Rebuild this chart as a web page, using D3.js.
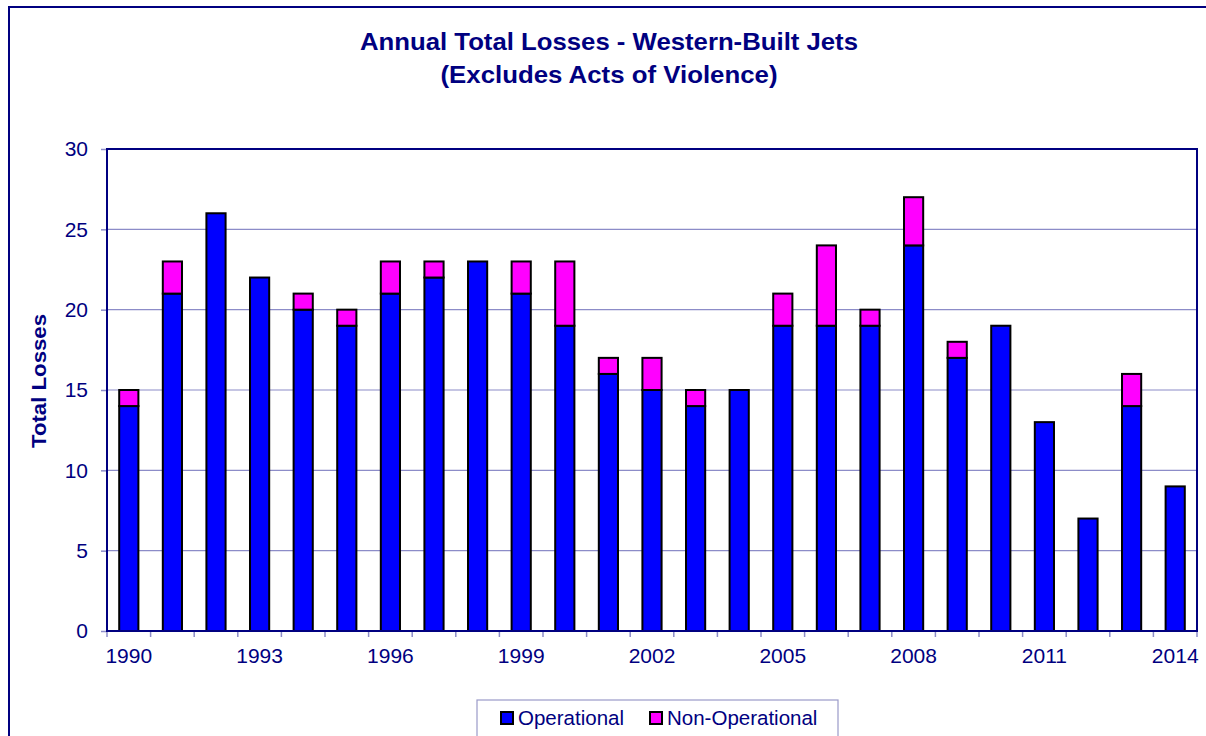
<!DOCTYPE html>
<html>
<head>
<meta charset="utf-8">
<script src="https://cdn.jsdelivr.net/npm/d3@7"></script>
<style>
  body { margin: 0; background: #fff; }
  svg { display: block; font-family: Arial, "Liberation Sans", sans-serif; }
</style>
</head>
<body>
<svg id="chart" width="1206" height="736"></svg>
<script>
// data
var years = [1990, 1991, 1992, 1993, 1994, 1995, 1996, 1997, 1998, 1999, 2000, 2001, 2002,
  2003, 2004, 2005, 2006, 2007, 2008, 2009, 2010, 2011, 2012, 2013, 2014];
var operational = [14, 21, 26, 22, 20, 19, 21, 22, 23, 21, 19, 16, 15, 14, 15, 19, 19, 19, 24, 17, 19, 13, 7, 14, 9];
var nonOperational = [1, 2, 0, 0, 1, 1, 2, 1, 0, 2, 4, 1, 2, 1, 0, 2, 5, 1, 3, 1, 0, 0, 0, 2, 0];
var yTicks = [0, 5, 10, 15, 20, 25, 30];
var labelYears = [1990, 1993, 1996, 1999, 2002, 2005, 2008, 2011, 2014];
var seriesNames = ["Operational", "Non-Operational"];
var seriesColors = ["#0000ff", "#ff00ff"];

var navy = "#000080";
var fontStack = "Arial, 'Liberation Sans', sans-serif";
var svg = d3.select("#chart");
var plot = { left: 107, right: 1197, top: 149, bottom: 631 };

// outer frame (runs off the right and bottom edge)
svg.append("rect")
  .attr("x", 9).attr("y", 7)
  .attr("width", 1260).attr("height", 800)
  .attr("fill", "none").attr("stroke", navy).attr("stroke-width", 2);

// title
svg.append("text")
  .attr("x", 609).attr("y", 50)
  .attr("text-anchor", "middle")
  .attr("font-size", 24).attr("font-weight", "bold").attr("fill", navy)
  .attr("textLength", 498).attr("lengthAdjust", "spacingAndGlyphs")
  .text("Annual Total Losses - Western-Built Jets");
svg.append("text")
  .attr("x", 609).attr("y", 83)
  .attr("text-anchor", "middle")
  .attr("font-size", 24).attr("font-weight", "bold").attr("fill", navy)
  .attr("textLength", 337).attr("lengthAdjust", "spacingAndGlyphs")
  .text("(Excludes Acts of Violence)");

var x = d3.scaleBand()
  .domain(years)
  .range([plot.left, plot.right])
  .paddingInner(0.56)
  .paddingOuter(0.28);

var y = d3.scaleLinear()
  .domain([0, 30])
  .range([plot.bottom, plot.top]);

// gridlines
svg.append("g")
  .selectAll("line")
  .data(yTicks.filter(d => d > 0 && d < 30))
  .enter()
  .append("line")
  .attr("x1", plot.left).attr("x2", plot.right)
  .attr("y1", d => y(d)).attr("y2", d => y(d))
  .attr("stroke", "#8c8cc8").attr("stroke-width", 1.2);

// y axis
var yAxis = svg.append("g")
  .attr("transform", `translate(${plot.left},0)`)
  .call(d3.axisLeft(y).tickValues(yTicks).tickSize(6).tickPadding(13));
yAxis.select(".domain").remove();
yAxis.selectAll(".tick line").attr("stroke", "#8c8cc8").attr("stroke-width", 1.5);
yAxis.selectAll(".tick text")
  .attr("font-size", 21).attr("fill", navy).attr("font-family", fontStack);

// x axis: ticks on band edges, labels every third year
var step = x.step();
var edges = d3.range(years.length + 1).map(i => plot.left + i * step);
svg.append("g")
  .selectAll("line")
  .data(edges)
  .enter()
  .append("line")
  .attr("x1", d => d).attr("x2", d => d)
  .attr("y1", plot.bottom).attr("y2", plot.bottom + 6)
  .attr("stroke", "#8c8cc8").attr("stroke-width", 1.5);

var xAxis = svg.append("g")
  .attr("transform", `translate(0,${plot.bottom})`)
  .call(d3.axisBottom(x).tickValues(labelYears).tickSize(0).tickPadding(17));
xAxis.select(".domain").remove();
xAxis.selectAll(".tick text")
  .attr("font-size", 21).attr("fill", navy).attr("font-family", fontStack);

// stacked bars
var rows = years.map((yr, i) => ({ year: yr, Operational: operational[i], "Non-Operational": nonOperational[i] }));
var stacked = d3.stack().keys(seriesNames)(rows);

svg.append("g")
  .selectAll("g")
  .data(stacked)
  .enter()
  .append("g")
  .attr("fill", (d, i) => seriesColors[i])
  .selectAll("rect")
  .data(d => d.filter(s => s[1] > s[0]))
  .enter()
  .append("rect")
  .attr("x", d => x(d.data.year))
  .attr("width", x.bandwidth())
  .attr("y", d => y(d[1]))
  .attr("height", d => y(d[0]) - y(d[1]))
  .attr("stroke", "#000").attr("stroke-width", 2);

// plot border
svg.append("rect")
  .attr("x", plot.left).attr("y", plot.top)
  .attr("width", plot.right - plot.left).attr("height", plot.bottom - plot.top)
  .attr("fill", "none").attr("stroke", navy).attr("stroke-width", 2);

// y axis title
svg.append("text")
  .attr("transform", "translate(46,381) rotate(-90)")
  .attr("text-anchor", "middle")
  .attr("font-size", 20).attr("font-weight", "bold").attr("fill", navy)
  .attr("textLength", 134).attr("lengthAdjust", "spacingAndGlyphs")
  .text("Total Losses");

// legend
var legend = svg.append("g");
legend.append("rect")
  .attr("x", 477).attr("y", 700)
  .attr("width", 361).attr("height", 60)
  .attr("fill", "#fff").attr("stroke", "#9a9ac8").attr("stroke-width", 1.2);

var legendX = [501, 650];
var items = legend.selectAll("g.item")
  .data(seriesNames)
  .enter()
  .append("g")
  .attr("class", "item")
  .attr("transform", (d, i) => `translate(${legendX[i]},712)`);
items.append("rect")
  .attr("width", 12).attr("height", 12)
  .attr("fill", (d, i) => seriesColors[i])
  .attr("stroke", "#000").attr("stroke-width", 2);
items.append("text")
  .attr("x", 17).attr("y", 13)
  .attr("font-size", 20.5).attr("fill", navy)
  .text(d => d);
</script>
</body>
</html>
